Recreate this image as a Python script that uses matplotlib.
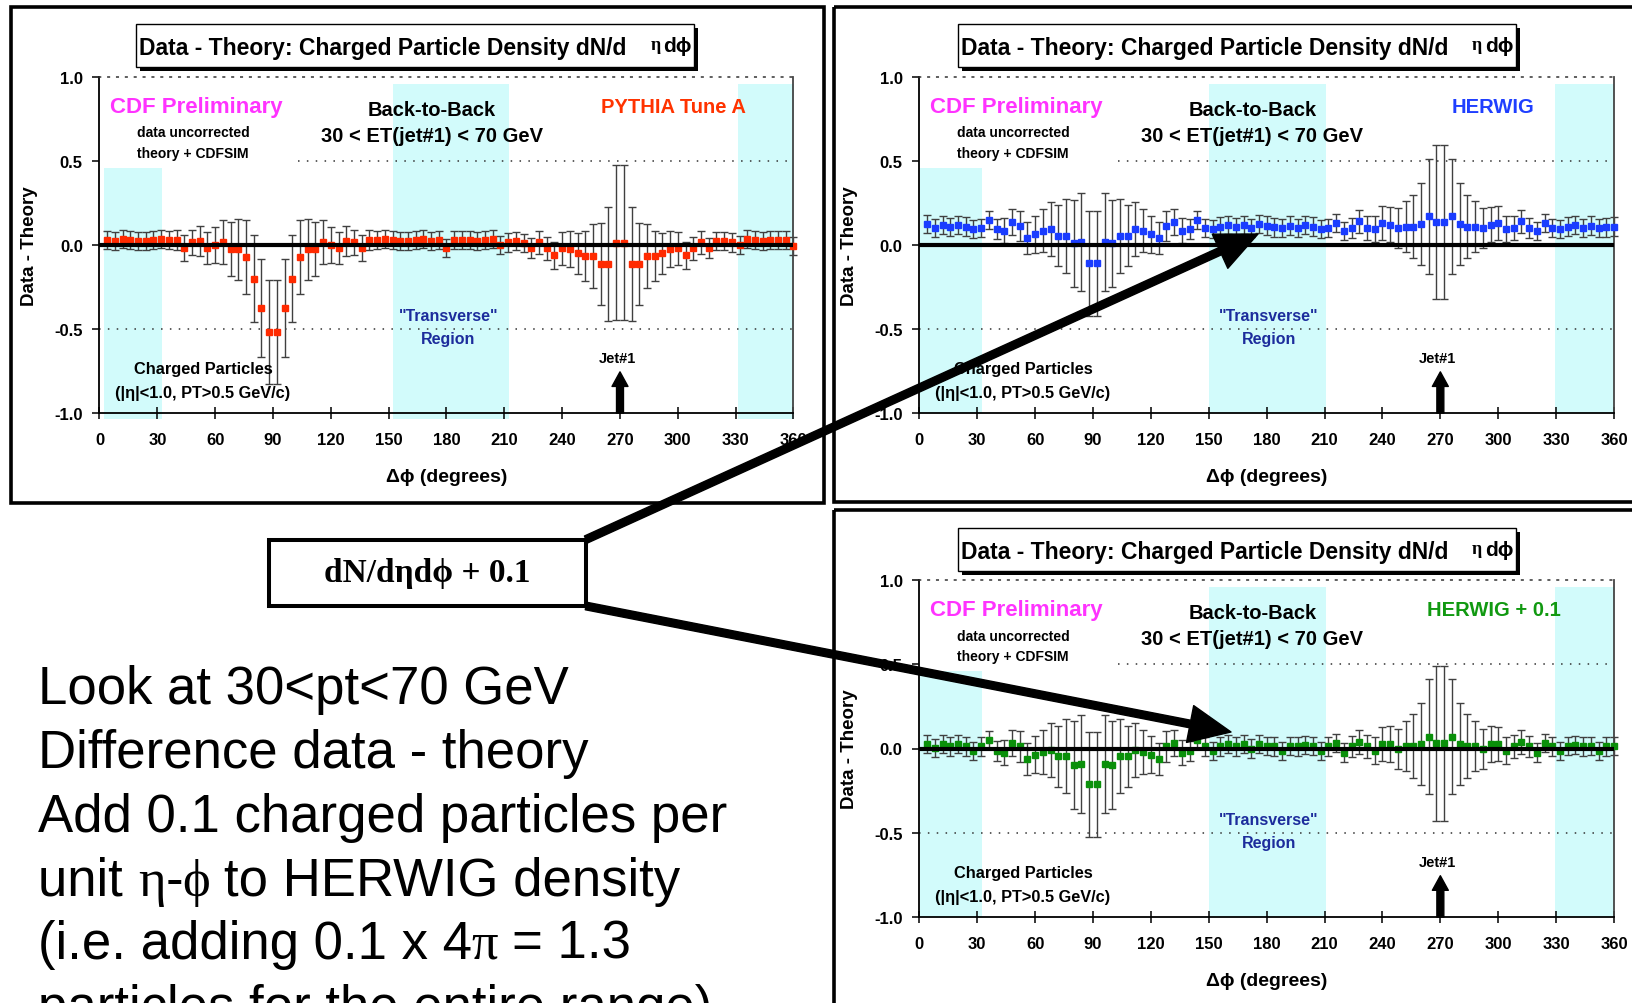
import matplotlib
matplotlib.use('Agg')
import numpy as np
import matplotlib.pyplot as plt
from matplotlib.patches import Rectangle, FancyArrowPatch
from matplotlib.font_manager import FontProperties

plt.rcParams['font.family'] = ['Liberation Sans', 'DejaVu Sans']
plt.rcParams['font.weight'] = 'bold'

W, H = 1633, 1004

# delta phi bins (4 degree steps)
dphi = np.arange(4, 361, 4)

# error bars, shared by the three panels
err = [0.055, 0.055, 0.055, 0.055, 0.055, 0.055, 0.055, 0.055, 0.055, 0.06,
       0.075, 0.075, 0.09, 0.095, 0.11, 0.13, 0.16, 0.18, 0.22, 0.26,
       0.29, 0.31, 0.31, 0.29, 0.26, 0.22, 0.18, 0.16, 0.13, 0.11,
       0.095, 0.09, 0.075, 0.075, 0.06, 0.055, 0.055, 0.055, 0.055, 0.055,
       0.055, 0.055, 0.055, 0.055, 0.055, 0.055, 0.055, 0.055, 0.055, 0.055,
       0.055, 0.055, 0.055, 0.055, 0.055, 0.06, 0.07, 0.07, 0.08, 0.10,
       0.105, 0.12, 0.15, 0.19, 0.245, 0.34, 0.46, 0.46, 0.34, 0.245,
       0.19, 0.15, 0.12, 0.105, 0.10, 0.08, 0.07, 0.07, 0.06, 0.055,
       0.055, 0.055, 0.055, 0.055, 0.055, 0.055, 0.055, 0.055, 0.055, 0.055]

pythia = [0.03, 0.024, 0.036, 0.03, 0.024, 0.024, 0.03, 0.036, 0.03, 0.03,
          -0.018, 0.016, 0.024, -0.018, 0.0, 0.016, -0.024, -0.026, -0.07, -0.2,
          -0.375, -0.52, -0.52, -0.375, -0.2, -0.07, -0.026, -0.026, 0.016, 0.0,
          -0.018, 0.024, 0.016, -0.018, 0.03, 0.03, 0.036, 0.03, 0.024, 0.024,
          0.03, 0.036, 0.024, 0.03, -0.018, 0.03, 0.03, 0.03, 0.024, 0.03,
          0.036, 0.0, 0.016, 0.024, 0.012, -0.016, 0.016, -0.02, -0.06, -0.02,
          -0.024, -0.05, -0.064, -0.064, -0.113, -0.113, 0.014, 0.014, -0.113, -0.113,
          -0.064, -0.064, -0.05, -0.024, -0.02, -0.06, -0.02, 0.016, -0.016, 0.024,
          0.024, 0.016, 0.0, 0.036, 0.03, 0.024, 0.03, 0.03, 0.03, -0.005]

herwig = [0.125, 0.10, 0.12, 0.108, 0.12, 0.11, 0.095, 0.10, 0.15, 0.094,
          0.086, 0.137, 0.115, 0.044, 0.064, 0.086, 0.094, 0.056, 0.056, 0.01,
          0.018, -0.11, -0.11, 0.018, 0.01, 0.056, 0.056, 0.094, 0.086, 0.064,
          0.044, 0.115, 0.137, 0.086, 0.095, 0.15, 0.10, 0.095, 0.11, 0.12,
          0.108, 0.12, 0.10, 0.125, 0.115, 0.105, 0.10, 0.115, 0.10, 0.12,
          0.11, 0.095, 0.10, 0.13, 0.082, 0.10, 0.14, 0.10, 0.095, 0.13,
          0.12, 0.10, 0.11, 0.11, 0.125, 0.17, 0.137, 0.137, 0.17, 0.125,
          0.11, 0.11, 0.10, 0.12, 0.13, 0.095, 0.10, 0.14, 0.10, 0.082,
          0.13, 0.10, 0.095, 0.11, 0.12, 0.10, 0.115, 0.10, 0.105, 0.11]

herwig_plus = [0.026, 0.002, 0.026, 0.012, 0.026, 0.012, -0.014, 0.012, 0.05, -0.014,
               -0.024, 0.032, 0.012, -0.06, -0.038, -0.02, -0.01, -0.047, -0.047, -0.097,
               -0.09, -0.213, -0.213, -0.09, -0.097, -0.047, -0.047, -0.01, -0.02, -0.038,
               -0.06, 0.012, 0.032, -0.024, -0.014, 0.05, 0.012, -0.014, 0.012, 0.026,
               0.012, 0.026, 0.0, 0.026, 0.016, 0.012, -0.014, 0.016, 0.012, 0.02,
               0.016, -0.014, 0.012, 0.032, -0.024, 0.012, 0.04, 0.012, -0.014, 0.026,
               0.026, -0.004, 0.016, 0.016, 0.026, 0.07, 0.032, 0.032, 0.07, 0.026,
               0.016, 0.016, -0.004, 0.026, 0.026, -0.014, 0.012, 0.04, 0.012, -0.024,
               0.032, 0.012, -0.014, 0.016, 0.02, 0.012, 0.016, -0.014, 0.012, 0.016]

xticks = list(range(0, 361, 30))
yticks = [-1.0, -0.5, 0.0, 0.5, 1.0]
ytick_labels = ['-1.0', '-0.5', '0.0', '0.5', '1.0']

bands_left = [(2.5, 32.5), (152, 212.5), (331, 360)]
bands_right = [(0.5, 32.5), (150, 210.5), (329.5, 360)]

CYAN = '#d2fbfb'
NAVY = '#1c2c9c'
SANS = ['Liberation Sans', 'DejaVu Sans']
SERIF = ['Liberation Serif', 'DejaVu Serif']

fig = plt.figure(figsize=(W / 100, H / 100), dpi=100)
fig.patch.set_facecolor('white')


def panel(x0, x1, ytop, ybot, vals, color, name, name_color, bands, floor):
    ax = fig.add_axes([x0 / W, 1 - ybot / H, (x1 - x0) / W, (ybot - ytop) / H])
    ax.set_xlim(0, 360)
    ax.set_ylim(-1, 1)
    for i, (a, b) in enumerate(bands):
        top = 0.73 if i == 0 else 0.98
        ax.axvspan(a, b, ymin=floor, ymax=top, color=CYAN, lw=0, zorder=0, clip_on=False)
    dots = (0, (1, 4.8))
    ax.hlines(0.5, 103, 360, colors='#333333', lw=1.1, linestyles=[dots], zorder=1)
    ax.hlines(-0.5, 0, 360, colors='#333333', lw=1.1, linestyles=[dots], zorder=1)
    ax.errorbar(dphi, vals, yerr=err, fmt='none', ecolor='#404040', elinewidth=1.0,
                capsize=2.8, capthick=1.0, zorder=2, clip_on=False)
    ax.plot(dphi, vals, 's', ms=4.4, color=color, mec=color, zorder=3, clip_on=False)
    ax.axhline(0, color='black', lw=3, zorder=4)

    for s in ['left', 'bottom']:
        ax.spines[s].set_linewidth(1.3)
        ax.spines[s].set_color('black')
    ax.spines['right'].set_color('#444444')
    ax.spines['right'].set_linewidth(1.3)
    ax.spines['top'].set_linestyle(dots)
    ax.spines['top'].set_linewidth(1.1)
    ax.spines['top'].set_color('#333333')

    ax.set_xticks(xticks)
    ax.set_yticks(yticks)
    ax.set_yticklabels(ytick_labels)
    ax.tick_params(axis='x', direction='inout', length=8, width=1.1, pad=10, labelsize=12)
    ax.tick_params(axis='y', direction='out', length=5, width=1.1, pad=7, labelsize=12)

    ax.text(0.5, -0.1875, 'Δϕ (degrees)', transform=ax.transAxes, ha='center',
            va='center', fontsize=14, family=SANS)
    ax.text(-0.101, 0.5, 'Data - Theory', transform=ax.transAxes, rotation=90,
            ha='center', va='center', fontsize=13.5)

    ax.text(5.6, 0.825, 'CDF Preliminary', color='#ff33ff', fontsize=16, ha='left', va='center')
    ax.text(19.7, 0.67, 'data uncorrected', fontsize=10, ha='left', va='center')
    ax.text(19.7, 0.547, 'theory + CDFSIM', fontsize=10, ha='left', va='center')
    ax.text(172.5, 0.805, 'Back-to-Back', fontsize=14.5, ha='center', va='center')
    ax.text(172.5, 0.652, '30 < ET(jet#1) < 70 GeV', fontsize=14.5, ha='center', va='center')
    ax.text(297.5, 0.825, name, color=name_color, fontsize=14.5, ha='center', va='center')
    ax.text(181, -0.42, '"Transverse"', color=NAVY, fontsize=11.5, ha='center', va='center')
    ax.text(181, -0.556, 'Region', color=NAVY, fontsize=11.5, ha='center', va='center')
    ax.text(53.7, -0.735, 'Charged Particles', fontsize=11.8, ha='center', va='center')
    ax.text(53.7, -0.878, '(|η|<1.0, PT>0.5 GeV/c)', fontsize=11.8, ha='center', va='center')
    ax.text(268.7, -0.673, 'Jet#1', fontsize=10.5, ha='center', va='center')
    ax.add_patch(FancyArrowPatch((270, -1.0), (270, -0.755),
                                 arrowstyle='simple,head_length=10.5,head_width=11.5,tail_width=5',
                                 mutation_scale=1, color='black', shrinkA=0, shrinkB=0,
                                 zorder=6, clip_on=False))
    return ax


panel(99.5, 793.5, 78, 414, pythia, '#ff2a00', 'PYTHIA Tune A', '#ff3300', bands_left, -0.017)
panel(919.4, 1614, 78, 414, herwig, '#1a3cff', 'HERWIG', '#1f3fff', bands_right, 0.0)
panel(919.4, 1614, 581, 918, herwig_plus, '#0a900a', 'HERWIG + 0.1', '#119911', bands_right, 0.0)

# overlay in pixel coordinates for frames, boxes, arrows and slide text
ov = fig.add_axes([0, 0, 1, 1], zorder=10)
ov.set_xlim(0, W)
ov.set_ylim(H, 0)
ov.axis('off')
ov.patch.set_alpha(0)

for (x, y, w, h) in [(11, 8, 813, 496), (834, 8, 830, 495), (834, 511, 830, 520)]:
    ov.add_patch(Rectangle((x, y), w, h, fill=False, ec='black', lw=2.6))

for (x, y) in [(136.5, 25), (958, 25), (958, 529)]:
    ov.add_patch(Rectangle((x + 4, y + 4), 558, 43, fc='black', ec='black', lw=0))
    ov.add_patch(Rectangle((x, y), 558, 43, fc='white', ec='black', lw=1))
    ov.text(x + 3, y + 30, 'Data - Theory: Charged Particle Density dN/d', fontsize=16.5,
            ha='left', va='baseline')
    ov.text(x + 514, y + 25, 'η', fontsize=13, ha='left', va='baseline', family=SERIF)
    ov.text(x + 527, y + 27, 'dϕ', fontsize=15, ha='left', va='baseline', family=SANS)

ov.add_patch(Rectangle((269, 540.5), 317, 66.5, fc='white', ec='black', lw=2.9))
ov.text(427.5, 574, 'dN/dηdϕ + 0.1', family=SERIF, fontsize=24,
        ha='center', va='center')

arrow_style = 'simple,head_length=30,head_width=27,tail_width=5.5'
ov.add_patch(FancyArrowPatch((586, 540.5), (1258, 235), arrowstyle=arrow_style,
                             mutation_scale=1, color='black', shrinkA=0, shrinkB=0))
ov.add_patch(FancyArrowPatch((586, 607), (1231, 733), arrowstyle=arrow_style,
                             mutation_scale=1, color='black', shrinkA=0, shrinkB=0))

renderer = fig.canvas.get_renderer()
sans = FontProperties(family='Liberation Sans', weight='normal', size=38)
serif = FontProperties(family='Liberation Serif', weight='normal', size=38)


def advance(s, fp):
    w1 = renderer.get_text_width_height_descent(s + 'H', fp, ismath=False)[0]
    w2 = renderer.get_text_width_height_descent('H', fp, ismath=False)[0]
    return w1 - w2


lines = [
    [('Look at 30<pt<70 GeV', sans)],
    [('Difference data - theory', sans)],
    [('Add 0.1 charged particles per', sans)],
    [('unit ', sans), ('η', serif), ('-', sans), ('ϕ ', serif), ('to HERWIG density', sans)],
    [('(i.e. adding 0.1 x 4', sans), ('π ', serif), ('= 1.3', sans)],
    [('particles for the entire range)', sans)],
]
baselines = [704, 768, 832, 896, 959, 1023]
for runs, yb in zip(lines, baselines):
    x = 38.5
    for s, fp in runs:
        ov.text(x, yb, s, fontproperties=fp, ha='left', va='baseline', clip_on=False)
        x += advance(s, fp)

fig.savefig('out.png', dpi=100, facecolor='white')
